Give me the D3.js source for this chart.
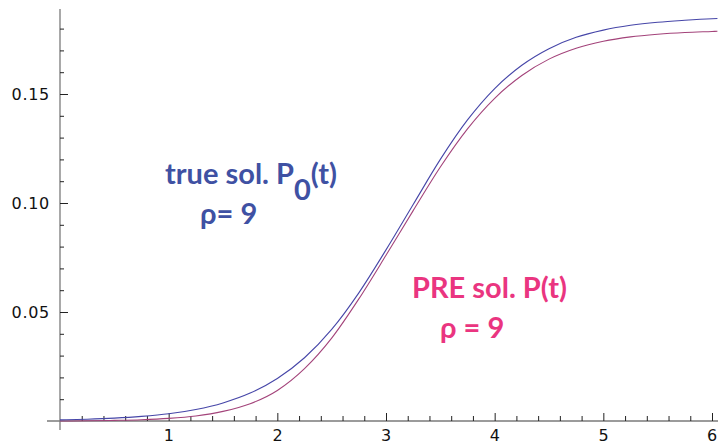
<!DOCTYPE html>
<html>
<head>
<meta charset="utf-8">
<script src="https://cdn.jsdelivr.net/npm/d3@7"></script>
<style>
 body{margin:0;background:#fff;}
 svg{display:block;}
 .tick text{font-family:"DejaVu Sans",sans-serif;font-size:16px;letter-spacing:0.7px;fill:#111;}
</style>
</head>
<body>
<svg id="chart" width="718" height="446"></svg>
<script>
// ---- data ----
const tVals=[0,0.25,0.5,0.75,1,1.25,1.5,1.75,2,2.25,2.5,2.75,3,3.25,3.5,3.75,4,4.25,4.5,4.75,5,5.25,5.5,5.75,6,6.05];
// true solution P0(t)
const trueVals=[0.0005,0.0008,0.0013,0.0021,0.0033,0.0053,0.0083,0.0128,0.0195,0.0290,0.0420,0.0588,0.0785,0.0993,0.1200,0.1381,0.1525,0.1632,0.1708,0.1760,0.1793,0.1815,0.1829,0.1838,0.1845,0.1846];
// PRE solution P(t)
const preVals=[0.0000,0.0001,0.0003,0.0006,0.0012,0.0023,0.0044,0.0079,0.0140,0.0240,0.0380,0.0560,0.0760,0.0965,0.1165,0.1340,0.1480,0.1585,0.1660,0.1710,0.1742,0.1762,0.1774,0.1782,0.1787,0.1788];
const xMajor=[1,2,3,4,5,6];
const yMajor=[0.05,0.10,0.15];
const xMinor=d3.range(1,31).map(i=>i*0.2).filter(v=>Math.abs(v-Math.round(v))>1e-6);
const yMinor=d3.range(1,19).map(i=>i*0.01).filter(v=>Math.abs(v*20-Math.round(v*20))>1e-6);

const svg=d3.select("#chart");
const x=d3.scaleLinear().domain([0,6]).range([60,712]);
const y=d3.scaleLinear().domain([0,0.15]).range([421,94]);

// axis lines (crossing a little past each other)
svg.append("line").attr("x1",47).attr("x2",718).attr("y1",y(0)).attr("y2",y(0))
 .attr("stroke","#7a7a7a").attr("stroke-width",1.3);
svg.append("line").attr("x1",x(0)).attr("x2",x(0)).attr("y1",y(0.189)).attr("y2",430)
 .attr("stroke","#7a7a7a").attr("stroke-width",1.3);

// x axis
const gx=svg.append("g").attr("transform",`translate(0,${y(0)})`)
 .call(d3.axisBottom(x).tickValues(xMajor).tickFormat(d3.format("d")).tickSizeInner(-8).tickSizeOuter(0).tickPadding(9));
const gxm=svg.append("g").attr("transform",`translate(0,${y(0)})`)
 .call(d3.axisBottom(x).tickValues(xMinor).tickFormat("").tickSizeInner(-5).tickSizeOuter(0));
// y axis
const gy=svg.append("g").attr("transform",`translate(${x(0)},0)`)
 .call(d3.axisLeft(y).tickValues(yMajor).tickFormat(d3.format(".2f")).tickSizeInner(-8).tickSizeOuter(0).tickPadding(10));
const gym=svg.append("g").attr("transform",`translate(${x(0)},0)`)
 .call(d3.axisLeft(y).tickValues(yMinor).tickFormat("").tickSizeInner(-4).tickSizeOuter(0));
[gx,gxm,gy,gym].forEach(g=>{
 g.select(".domain").remove();
 g.selectAll(".tick line").attr("stroke","#222").attr("stroke-width",1);
});

// curves
const line=d3.line().x(d=>x(d[0])).y(d=>y(d[1])).curve(d3.curveMonotoneX);
svg.append("path").datum(tVals.map((t,i)=>[t,preVals[i]]))
 .attr("d",line).attr("fill","none").attr("stroke","#a3437a").attr("stroke-width",1.1);
svg.append("path").datum(tVals.map((t,i)=>[t,trueVals[i]]))
 .attr("d",line).attr("fill","none").attr("stroke","#4646a8").attr("stroke-width",1.1);

// labels
const lab=svg.append("g").attr("font-family","Lato, 'Open Sans', sans-serif").attr("font-weight","bold");
const t1=lab.append("text").attr("x",165).attr("y",184).attr("fill","#3f51a3").attr("font-size",29);
t1.append("tspan").text("true sol. P");
t1.append("tspan").attr("dy",16).text("0");
t1.append("tspan").attr("dy",-16).text("(t)");
lab.append("text").attr("x",200).attr("y",224).attr("fill","#3f51a3").attr("font-size",29).text("\u03c1= 9");
lab.append("text").attr("x",412).attr("y",298).attr("fill","#ea3580").attr("font-size",29).text("PRE sol. P(t)");
lab.append("text").attr("x",440).attr("y",338).attr("fill","#ea3580").attr("font-size",29).text("\u03c1 = 9");
</script>
</body>
</html>
